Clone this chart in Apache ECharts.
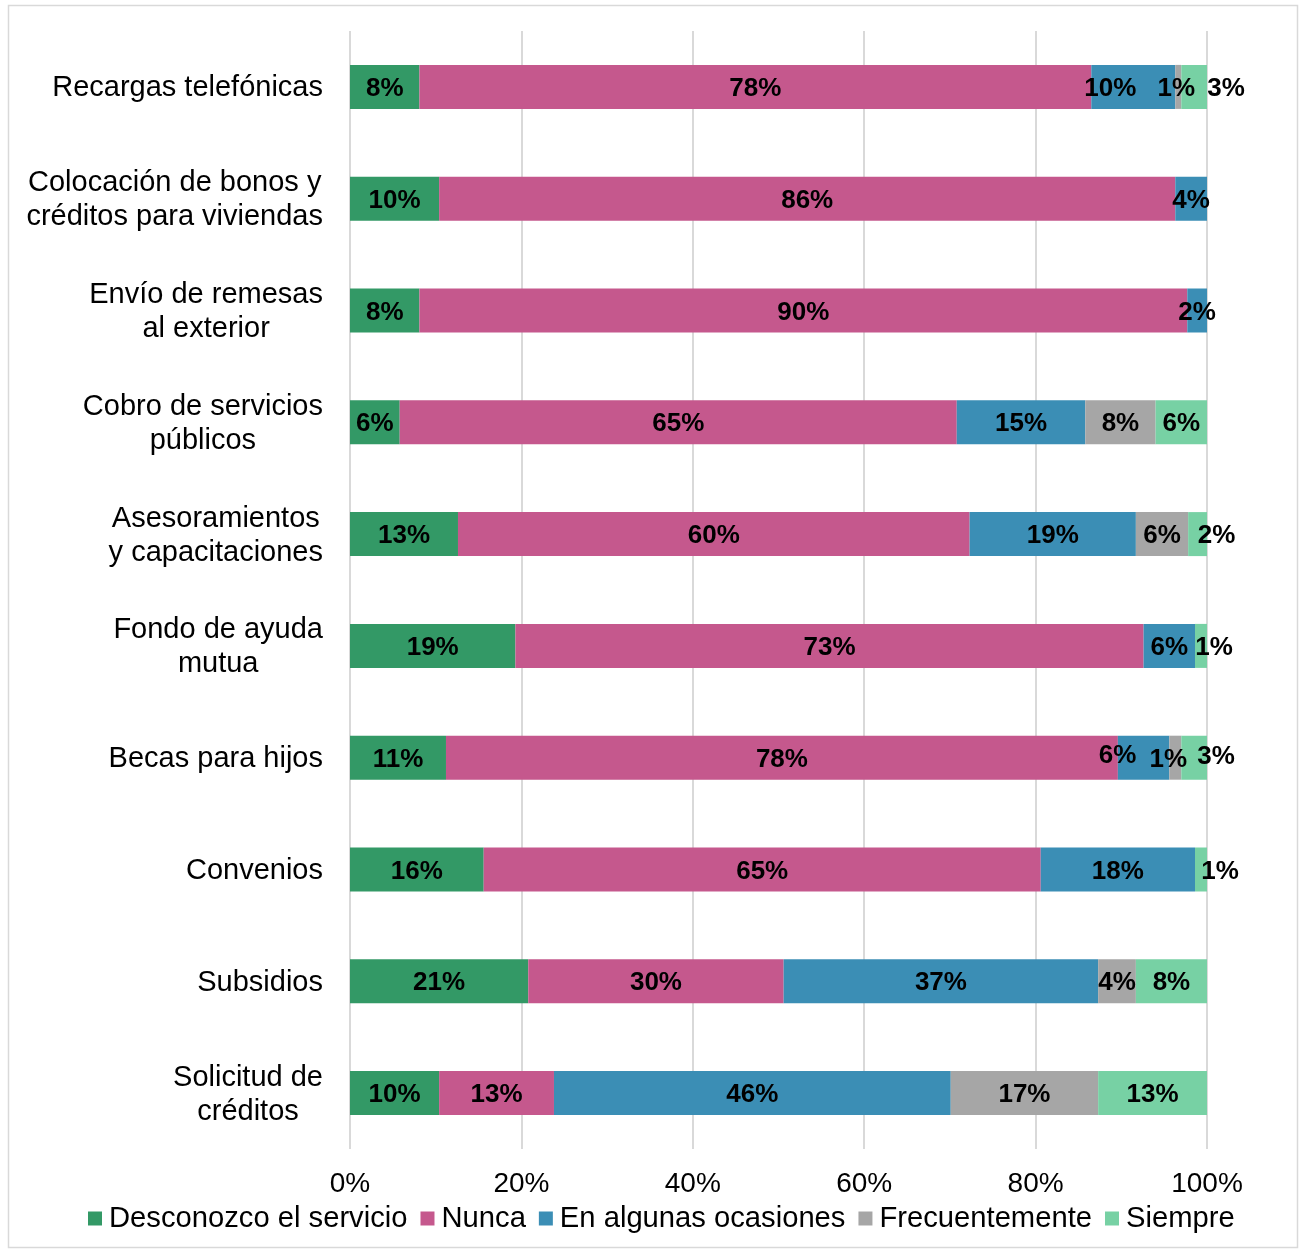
<!DOCTYPE html>
<html>
<head>
<meta charset="utf-8">
<title>Uso de servicios</title>
<script src="https://cdn.jsdelivr.net/npm/echarts@6/dist/echarts.min.js"></script>
<style>
  html, body { margin: 0; padding: 0; background: #ffffff; }
  #chart { width: 1300px; height: 1251px; }
</style>
</head>
<body>
<div id="chart"></div>
<script>
// Services (top to bottom)
const categories = [
  'Recargas telefónicas',
  'Colocación de bonos y\ncréditos para viviendas',
  'Envío de remesas\nal exterior',
  'Cobro de servicios\npúblicos',
  'Asesoramientos\ny capacitaciones',
  'Fondo de ayuda\nmutua',
  'Becas para hijos',
  'Convenios',
  'Subsidios',
  'Solicitud de\ncréditos'
];

// Share of answers per service (%)
const desconozco = [8.1, 10.4, 8.1, 5.8, 12.6, 19.3, 11.2, 15.6, 20.8, 10.4];
const nunca      = [78.4, 85.9, 89.6, 65.0, 59.7, 73.3, 78.4, 65.0, 29.8, 13.4];
const algunas    = [9.8, 3.7, 2.3, 15.0, 19.4, 6.0, 6.0, 18.0, 36.7, 46.3];
const frecuente  = [0.7, null, null, 8.2, 6.1, null, 1.4, null, 4.4, 17.2];
const siempre    = [3.0, null, null, 6.0, 2.2, 1.4, 3.0, 1.4, 8.3, 12.7];

const seriesNames = ['Desconozco el servicio', 'Nunca', 'En algunas ocasiones', 'Frecuentemente', 'Siempre'];
const seriesValues = [desconozco, nunca, algunas, frecuente, siempre];
const colors = ['#339966', '#C5588D', '#3B8EB5', '#A6A6A6', '#77D1A4'];

const xTicks = [0, 20, 40, 60, 80, 100];

// Nudges for labels of narrow segments so they stay readable: [seriesIndex, categoryIndex, dx, dy]
const labelNudges = [
  [2, 0, -23, 0], [3, 0, -2, 0], [4, 0, 32, 0],
  [4, 4, 19, 0],
  [4, 5, 13, 0],
  [2, 6, -26, -4], [3, 6, -7, 0], [4, 6, 22, -3],
  [4, 7, 19, 0]
];
const LABEL_DY = 2;

const FONT = '"Liberation Sans", Arial, Helvetica, sans-serif';

function buildData(si) {
  return seriesValues[si].map(function (v, ci) {
    const n = labelNudges.find(function (e) { return e[0] === si && e[1] === ci; });
    const dx = n ? n[2] : 0;
    const dy = (n ? n[3] : 0) + LABEL_DY;
    return { value: v, label: { offset: [dx, dy] } };
  });
}

const series = seriesNames.map(function (name, si) {
  return {
    name: name,
    type: 'bar',
    stack: 'total',
    barWidth: 44,
    itemStyle: { color: colors[si] },
    label: {
      show: true,
      position: 'inside',
      color: '#000000',
      fontFamily: FONT,
      fontWeight: 'bold',
      fontSize: 26,
      formatter: function (p) {
        if (p.value === null || p.value === undefined || p.value === '-') return '';
        return Math.round(p.value) + '%';
      }
    },
    emphasis: { disabled: true },
    data: buildData(si)
  };
});

const chart = echarts.init(document.getElementById('chart'), null, { renderer: 'canvas' });

chart.setOption({
  animation: false,
  backgroundColor: '#ffffff',
  textStyle: { fontFamily: FONT },
  color: colors,
  graphic: [{
    type: 'rect',
    shape: { x: 8.5, y: 5.5, width: 1289, height: 1242 },
    style: { fill: 'none', stroke: '#D9D9D9', lineWidth: 1.5 },
    silent: true,
    z: -1
  }],
  grid: { left: 350, right: 93, top: 31, bottom: 102, containLabel: false },
  legend: {
    data: seriesNames,
    left: 83,
    top: 1199,
    icon: 'rect',
    itemWidth: 14,
    itemHeight: 14,
    itemGap: 13,
    textStyle: { fontFamily: FONT, fontSize: 29.2, color: '#000000', padding: [0, 0, 0, 2] }
  },
  xAxis: {
    type: 'value',
    min: 0,
    max: 100,
    interval: 20,
    axisLine: { show: false },
    axisTick: { show: false },
    splitLine: { show: true, lineStyle: { color: '#D9D9D9', width: 2 } },
    axisLabel: {
      fontFamily: FONT,
      fontSize: 28,
      color: '#000000',
      margin: 21,
      formatter: function (v) { return xTicks.indexOf(v) >= 0 ? v + '%' : ''; }
    }
  },
  yAxis: {
    type: 'category',
    inverse: true,
    data: categories,
    axisLine: { show: false },
    axisTick: { show: false },
    axisLabel: {
      margin: 27,
      align: 'right',
      fontFamily: FONT,
      fontSize: 29,
      lineHeight: 34,
      color: '#000000',
      padding: [3, 0, 0, 0],
      formatter: function (v) {
        return v.split('\n').map(function (s) { return '{c|' + s + '}'; }).join('\n');
      },
      rich: {
        c: { align: 'center', fontFamily: FONT, fontSize: 29, lineHeight: 34, color: '#000000' }
      }
    }
  },
  series: series
});
</script>
</body>
</html>
